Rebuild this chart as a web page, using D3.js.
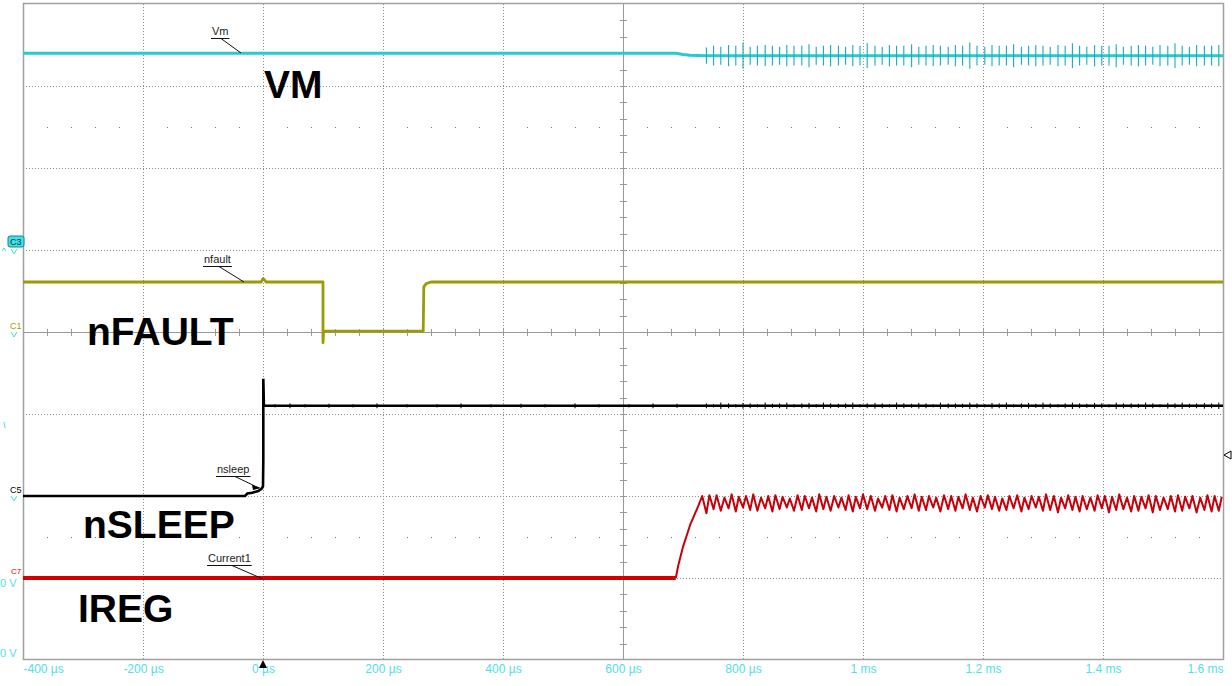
<!DOCTYPE html>
<html>
<head>
<meta charset="utf-8">
<script src="https://cdn.jsdelivr.net/npm/d3@7/dist/d3.min.js"></script>
<style>
  body { margin: 0; background: #fff; }
  svg { display: block; font-family: "Liberation Sans", Arial, sans-serif; }
</style>
</head>
<body>
<script>
// Time axis (µs) and its labels
var timeTicks = [-400, -200, 0, 200, 400, 600, 800, 1000, 1200, 1400, 1600];
var timeLabels = ["-400 µs", "-200 µs", "0 µs", "200 µs", "400 µs", "600 µs", "800 µs", "1 ms", "1.2 ms", "1.4 ms", "1.6 ms"];

// Vertical positions in screen divisions (-4 .. 4)
var divTicks = [-4, -3, -2, -1, 0, 1, 2, 3, 4];

// VM (channel C3) before the spikes
var vmT = [-400, 688, 700, 712, 738];
var vmV = [3.40, 3.40, 3.385, 3.375, 3.37];
var vmBase = 3.37;

// nFAULT (C1)
var nfT = [-400, -3, 0, 2, 5, 100, 100, 101, 267, 268, 272, 280, 1600];
var nfV = [0.61, 0.61, 0.65, 0.64, 0.61, 0.61, -0.13, 0.01, 0.01, 0.55, 0.59, 0.61, 0.61];

// nSLEEP (C5)
var nsT = [-400, -30, -26, -18, -8, -2, 0, 0.5, 0.5, 1.5, 1600];
var nsV = [-2.0, -2.0, -1.97, -1.96, -1.94, -1.91, -1.88, -1.56, -0.57, -0.9, -0.9];
var nsHigh = -0.9;
var nsNoiseT = [20, 45, 70, 110, 150, 190, 240, 290, 330, 380, 430, 470, 520, 560, 610, 650, 690];
var nsNoiseA = [0.02, 0.03, 0.02, 0.025, 0.02, 0.03, 0.02, 0.02, 0.03, 0.02, 0.025, 0.02, 0.03, 0.02, 0.02, 0.03, 0.025];

// IREG (C7) flat part and rise
var irT = [-400, 688, 692, 700, 712, 725];
var irV = [-3.0, -3.0, -2.85, -2.62, -2.35, -2.13];

// IREG ripple: peaks and troughs
var peakT = [732, 744, 756, 769, 781, 793, 805, 817, 830, 842,
  854, 866, 878, 891, 903, 915, 927, 939, 952, 964,
  976, 988, 1000, 1013, 1025, 1037, 1049, 1061, 1074, 1086,
  1098, 1110, 1122, 1135, 1147, 1159, 1171, 1183, 1196, 1208,
  1220, 1232, 1244, 1257, 1269, 1281, 1293, 1305, 1318, 1330,
  1342, 1354, 1366, 1379, 1391, 1403, 1415, 1427, 1440, 1452,
  1464, 1476, 1488, 1501, 1513, 1525, 1537, 1549, 1562, 1574,
  1586, 1598];
var peakV = [-2.00, -1.99, -1.99, -2.02, -1.98, -2.01, -2.00, -1.98, -2.02, -2.00,
  -1.99, -2.01, -2.03, -1.99, -2.00, -2.02, -1.98, -2.01, -2.00, -2.02,
  -1.99, -2.01, -1.98, -2.00, -2.03, -2.00, -1.99, -2.02, -2.00, -1.98,
  -2.01, -2.00, -2.02, -1.99, -2.00, -2.01, -1.98, -2.02, -2.00, -1.99,
  -2.01, -2.03, -2.00, -1.99, -2.02, -2.00, -2.01, -1.98, -2.00, -2.02,
  -1.99, -2.01, -2.00, -2.02, -1.99, -2.00, -2.01, -1.98, -2.02, -2.00,
  -2.01, -1.99, -2.00, -2.02, -2.00, -1.99, -2.01, -2.00, -2.02, -1.99,
  -2.00, -2.01];
var troughT = [739, 751, 763, 776, 788, 800, 812, 824, 837, 849,
  861, 873, 885, 898, 910, 922, 934, 946, 959, 971,
  983, 995, 1007, 1020, 1032, 1044, 1056, 1068, 1081, 1093,
  1105, 1117, 1129, 1142, 1154, 1166, 1178, 1190, 1203, 1215,
  1227, 1239, 1251, 1264, 1276, 1288, 1300, 1312, 1325, 1337,
  1349, 1361, 1373, 1386, 1398, 1410, 1422, 1434, 1447, 1459,
  1471, 1483, 1495, 1508, 1520, 1532, 1544, 1556, 1569, 1581,
  1593];
var troughV = [-2.21, -2.16, -2.18, -2.15, -2.19, -2.14, -2.17, -2.18, -2.15, -2.19,
  -2.16, -2.14, -2.18, -2.17, -2.15, -2.19, -2.16, -2.18, -2.14, -2.17,
  -2.19, -2.15, -2.16, -2.18, -2.14, -2.17, -2.19, -2.16, -2.15, -2.18,
  -2.17, -2.14, -2.19, -2.16, -2.18, -2.15, -2.17, -2.19, -2.14, -2.16,
  -2.18, -2.17, -2.15, -2.19, -2.16, -2.14, -2.18, -2.17, -2.20, -2.15,
  -2.17, -2.19, -2.16, -2.18, -2.15, -2.20, -2.17, -2.16, -2.19, -2.18,
  -2.15, -2.20, -2.17, -2.16, -2.19, -2.18, -2.15, -2.20, -2.17, -2.19,
  -2.18];

// VM switching spikes (same instants as the ripple troughs), half height in divisions
var vmSpikeA = [0.10, 0.12, 0.11, 0.13, 0.12, 0.16, 0.11, 0.12, 0.13, 0.12,
  0.11, 0.13, 0.12, 0.12, 0.14, 0.11, 0.12, 0.13, 0.12, 0.11,
  0.13, 0.12, 0.15, 0.12, 0.11, 0.13, 0.12, 0.12, 0.14, 0.11,
  0.12, 0.13, 0.12, 0.11, 0.13, 0.12, 0.16, 0.12, 0.11, 0.13,
  0.12, 0.12, 0.14, 0.11, 0.12, 0.13, 0.12, 0.11, 0.13, 0.12,
  0.15, 0.12, 0.11, 0.13, 0.12, 0.12, 0.14, 0.11, 0.12, 0.13,
  0.12, 0.11, 0.13, 0.12, 0.15, 0.12, 0.11, 0.13, 0.12, 0.12,
  0.13];
// nSLEEP switching noise at the same instants, half height in divisions
var nsSpikeA = [0.03, 0.02, 0.04, 0.03, 0.02, 0.035, 0.03, 0.02, 0.04, 0.025,
  0.03, 0.04, 0.02, 0.03, 0.035, 0.02, 0.04, 0.03, 0.025, 0.03,
  0.04, 0.02, 0.03, 0.035, 0.03, 0.02, 0.04, 0.03, 0.025, 0.035,
  0.03, 0.02, 0.04, 0.03, 0.03, 0.025, 0.04, 0.03, 0.02, 0.035,
  0.03, 0.04, 0.02, 0.03, 0.035, 0.025, 0.04, 0.03, 0.02, 0.03,
  0.04, 0.03, 0.025, 0.035, 0.03, 0.02, 0.04, 0.03, 0.03, 0.025,
  0.04, 0.03, 0.02, 0.035, 0.03, 0.04, 0.025, 0.03, 0.035, 0.03,
  0.04];

var svgWidth = 1232;
var svgHeight = 686;

var svg = d3.select("body")
  .append("svg")
  .attr("width", svgWidth)
  .attr("height", svgHeight);

var x = d3.scaleLinear().domain([-400, 1600]).range([23, 1223]);
var y = d3.scaleLinear().domain([-4, 4]).range([660, 4]);

var zip = (a, b) => a.map((d, i) => [d, b[i]]);
var line = d3.line().x(d => x(d[0])).y(d => y(d[1]));

// Grid
// ==============================
var grid = svg.append("g");

grid.selectAll(".vgrid")
  .data(timeTicks.filter(t => t > -400 && t < 1600 && t !== 600))
  .enter().append("line")
  .attr("x1", d => x(d) + 0.5).attr("x2", d => x(d) + 0.5)
  .attr("y1", y(4)).attr("y2", y(-4))
  .attr("stroke", "#8c8c8c").attr("stroke-dasharray", "1,2");

grid.selectAll(".hgrid")
  .data(divTicks.filter(d => d > -4 && d < 4 && d !== 0))
  .enter().append("line")
  .attr("x1", x(-400)).attr("x2", x(1600))
  .attr("y1", d => y(d) + 0.5).attr("y2", d => y(d) + 0.5)
  .attr("stroke", "#8c8c8c").attr("stroke-dasharray", "1,2");

// dotted rows at +/-2.5 div
var minorT = d3.range(-360, 1600, 40).filter(t => t % 200 !== 0);
[2.5, -2.5].forEach(function(row) {
  grid.selectAll(null)
    .data(minorT)
    .enter().append("rect")
    .attr("x", d => x(d)).attr("y", y(row))
    .attr("width", 1).attr("height", 1)
    .attr("fill", "#777");
});

// centre axes with minor ticks
grid.append("line")
  .attr("x1", x(-400)).attr("x2", x(1600))
  .attr("y1", y(0) + 0.5).attr("y2", y(0) + 0.5)
  .attr("stroke", "#999");
grid.append("line")
  .attr("x1", x(600) + 0.5).attr("x2", x(600) + 0.5)
  .attr("y1", y(4)).attr("y2", y(-4))
  .attr("stroke", "#999");

grid.selectAll(null)
  .data(d3.range(-360, 1600, 40))
  .enter().append("line")
  .attr("x1", d => x(d) + 0.5).attr("x2", d => x(d) + 0.5)
  .attr("y1", y(0) - 3).attr("y2", y(0) + 4)
  .attr("stroke", "#999");

grid.selectAll(null)
  .data(d3.range(-3.8, 4, 0.2))
  .enter().append("line")
  .attr("x1", x(600) - 3).attr("x2", x(600) + 4)
  .attr("y1", d => Math.round(y(d)) + 0.5).attr("y2", d => Math.round(y(d)) + 0.5)
  .attr("stroke", "#999");

// frame
grid.append("rect")
  .attr("x", x(-400) + 0.5).attr("y", y(4) - 0.5)
  .attr("width", x(1600) - x(-400)).attr("height", y(-4) - y(4))
  .attr("fill", "none").attr("stroke", "#a0a0a0").attr("stroke-width", 1.5);

// Time axis labels
// ==============================
var bottomAxis = d3.axisBottom(x)
  .tickValues(timeTicks)
  .tickFormat((d, i) => timeLabels[i])
  .tickSize(0)
  .tickPadding(4);

var axisG = svg.append("g")
  .attr("transform", `translate(0, ${y(-4)})`)
  .call(bottomAxis);
axisG.select(".domain").remove();
axisG.selectAll("text")
  .attr("fill", "#4fe0ea")
  .style("font-size", "12px")
  .style("font-family", "'Liberation Sans', Arial, sans-serif")
  .attr("text-anchor", (d, i) => i === 0 ? "start" : (i === timeTicks.length - 1 ? "end" : "middle"));

// Traces
// ==============================
var traces = svg.append("g");

// VM
traces.append("path")
  .attr("d", line(zip(vmT, vmV).concat([[1600, vmBase]])))
  .attr("fill", "none").attr("stroke", "#28c9d2").attr("stroke-width", 3);
traces.selectAll(".vmspike")
  .data(zip(troughT, vmSpikeA))
  .enter().append("line")
  .attr("x1", d => x(d[0])).attr("x2", d => x(d[0]))
  .attr("y1", d => y(vmBase + d[1])).attr("y2", d => y(vmBase - d[1]))
  .attr("stroke", "#14aeb8").attr("stroke-width", 1.1);

// nFAULT
traces.append("path")
  .attr("d", line(zip(nfT, nfV)))
  .attr("fill", "none").attr("stroke", "#9c9a05").attr("stroke-width", 2.8)
  .attr("stroke-linejoin", "round");

// nSLEEP
traces.append("path")
  .attr("d", line(zip(nsT, nsV)))
  .attr("fill", "none").attr("stroke", "#000").attr("stroke-width", 2.6);
traces.selectAll(".nsnoise")
  .data(zip(nsNoiseT, nsNoiseA).concat(zip(troughT, nsSpikeA)))
  .enter().append("line")
  .attr("x1", d => x(d[0])).attr("x2", d => x(d[0]))
  .attr("y1", d => y(nsHigh + d[1])).attr("y2", d => y(nsHigh - d[1]))
  .attr("stroke", "#000").attr("stroke-width", 1);

// IREG
var irRipple = [];
peakT.forEach(function(t, i) {
  irRipple.push([t, peakV[i]]);
  if (i < troughT.length) irRipple.push([troughT[i], troughV[i]]);
});
traces.append("path")
  .attr("d", line(zip(irT, irV).slice(0, 2)))
  .attr("fill", "none").attr("stroke", "#d40000").attr("stroke-width", 4);
traces.append("path")
  .attr("d", line(zip(irT, irV).slice(1).concat(irRipple)))
  .attr("fill", "none").attr("stroke", "#c8000a").attr("stroke-width", 2)
  .attr("stroke-linejoin", "round");

// Trace annotations (pixel layout)
// ==============================
var notes = [
  { text: "Vm", tx: 212, ty: 35, lx: 221, ex: 241, ey: 53 },
  { text: "nfault", tx: 204, ty: 263, lx: 219, ex: 244, ey: 282 },
  { text: "nsleep", tx: 217, ty: 473, lx: 235, ex: 259, ey: 488 },
  { text: "Current1", tx: 208, ty: 562, lx: 232, ex: 263, ey: 579 }
];
var noteG = svg.append("g");
notes.forEach(function(n) {
  var t = noteG.append("text")
    .attr("x", n.tx).attr("y", n.ty)
    .style("font-size", "11px").attr("fill", "#222")
    .text(n.text);
  var w = t.node().getComputedTextLength();
  noteG.append("line")
    .attr("x1", n.tx - 1).attr("x2", n.tx + w + 1)
    .attr("y1", n.ty + 3.5).attr("y2", n.ty + 3.5)
    .attr("stroke", "#111").attr("stroke-width", 1);
  noteG.append("line")
    .attr("x1", n.lx).attr("y1", n.ty + 3.5)
    .attr("x2", n.ex).attr("y2", n.ey)
    .attr("stroke", "#111").attr("stroke-width", 1);
});
// little arrow head on the nsleep pointer
noteG.append("path")
  .attr("d", "M252,485 L261,488 L253,490 Z")
  .attr("fill", "#000");

// Big signal names
var bigNames = [
  { text: "VM", x: 264, y: 98 },
  { text: "nFAULT", x: 87, y: 345 },
  { text: "nSLEEP", x: 83, y: 538 },
  { text: "IREG", x: 78, y: 622 }
];
svg.selectAll(".big")
  .data(bigNames)
  .enter().append("text")
  .attr("x", d => d.x).attr("y", d => d.y)
  .style("font-size", "39px").style("font-weight", "bold")
  .attr("fill", "#000")
  .text(d => d.text);

// Channel markers on the left
// ==============================
var left = svg.append("g").style("font-size", "9px");
left.append("rect")
  .attr("x", 8).attr("y", 236).attr("width", 16).attr("height", 11).attr("rx", 2)
  .attr("fill", "#3ee0ea").attr("stroke", "#0a8a95");
left.append("text").attr("x", 10).attr("y", 245).attr("fill", "#033").text("C3");
left.append("path").attr("d", "M11,249 L14,254 L17,249").attr("fill", "none").attr("stroke", "#3ee0ea");
left.append("path").attr("d", "M2,251 L4,248 L6,251").attr("fill", "none").attr("stroke", "#3ee0ea");

left.append("text").attr("x", 10).attr("y", 329).attr("fill", "#a8a000").text("C1");
left.append("path").attr("d", "M11,332 L14,337 L17,332").attr("fill", "none").attr("stroke", "#3ee0ea");

left.append("text").attr("x", 10).attr("y", 493).attr("fill", "#000").text("C5");
left.append("path").attr("d", "M11,496 L14,501 L17,496").attr("fill", "none").attr("stroke", "#3ee0ea");

left.append("text").attr("x", 11).attr("y", 574).attr("fill", "#d40000").style("font-size", "8px").text("C7");
left.append("text").attr("x", 0).attr("y", 587).attr("fill", "#4fe0ea").style("font-size", "11px").text("0 V");
left.append("text").attr("x", 0).attr("y", 657).attr("fill", "#4fe0ea").style("font-size", "11px").text("0 V");
left.append("line").attr("x1", 4).attr("x2", 5).attr("y1", 422).attr("y2", 428).attr("stroke", "#45dde6");

// right edge marker and trigger marker
svg.append("path")
  .attr("d", "M1224,455 L1231,451 L1231,459 Z")
  .attr("fill", "#fff").attr("stroke", "#000");
svg.append("path")
  .attr("d", `M${x(0) - 4},668 L${x(0)},660 L${x(0) + 4},668 Z`)
  .attr("fill", "#000");
</script>
</body>
</html>
